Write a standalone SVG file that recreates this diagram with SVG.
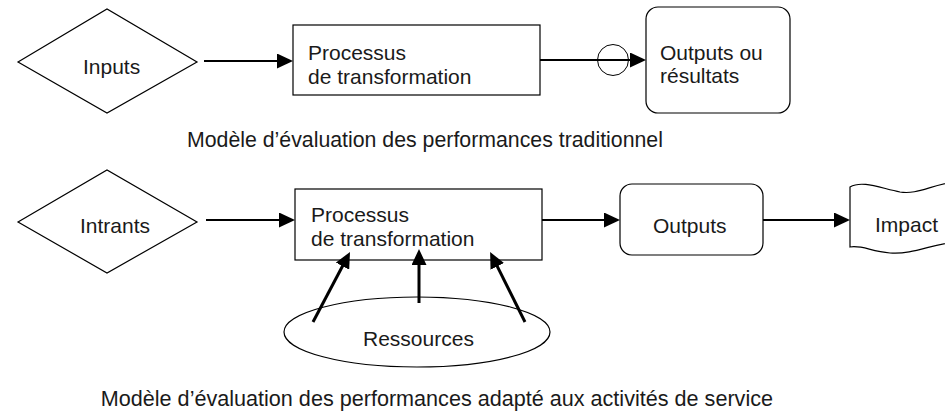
<svg xmlns="http://www.w3.org/2000/svg" width="945" height="420" viewBox="0 0 945 420">
  <style>
    .shape { fill: #ffffff; stroke: #000000; stroke-width: 1.2; }
    .conn { fill: none; stroke: #000000; stroke-width: 1.8; }
    .res { fill: none; stroke: #000000; stroke-width: 3; }
    text { font-family: "Liberation Sans", Arial, Helvetica, sans-serif; font-size: 21px; fill: #1a1a1a; }
    .cap1 { font-size: 21.3px; }
    .cap2 { font-size: 21.6px; }
  </style>
  <defs>
    <marker id="arrow" markerUnits="userSpaceOnUse" markerWidth="17" markerHeight="15" refX="10" refY="7.5" orient="auto">
      <path d="M0,0 L16,7.5 L0,15 z" fill="#000000"/>
    </marker>
  </defs>

  <!-- Top row -->
  <g id="inputs">
    <polygon class="shape" points="18,62 107,9 197,62 107,113"/>
    <text x="83" y="74">Inputs</text>
  </g>
  <g id="processus1">
    <rect class="shape" x="293" y="25" width="247" height="70"/>
    <text x="308" y="60">Processus</text>
    <text x="308" y="84">de transformation</text>
  </g>
  <g id="outputs1">
    <rect class="shape" x="646" y="7" width="144" height="106" rx="12" ry="12"/>
    <text x="660" y="60">Outputs ou</text>
    <text x="660" y="83">résultats</text>
  </g>
  <text id="caption1" class="cap1" x="187" y="147">Modèle d’évaluation des performances traditionnel</text>

  <!-- Bottom row -->
  <g id="intrants">
    <polygon class="shape" points="18,222 107,170 197,222 107,273"/>
    <text x="80" y="233">Intrants</text>
  </g>
  <g id="processus2">
    <rect class="shape" x="295" y="189" width="247" height="71"/>
    <text x="311" y="222">Processus</text>
    <text x="311" y="246">de transformation</text>
  </g>
  <g id="outputs2">
    <rect class="shape" x="620" y="184" width="143" height="71" rx="12" ry="12"/>
    <text x="653" y="233">Outputs</text>
  </g>
  <g id="impact">
    <path class="shape" d="M850,187 C862,180 880,188 900,192 C918,195 932,184 960,181 L960,242 C935,242 915,255 890,253 C870,251 862,245 850,247 Z"/>
    <text x="875" y="232">Impact</text>
  </g>
  <g id="ressources">
    <ellipse class="shape" cx="417" cy="332" rx="133" ry="35"/>
    <text x="363" y="346">Ressources</text>
  </g>
  <text id="caption2" class="cap2" x="773" y="406" text-anchor="end">Modèle d’évaluation des performances adapté aux activités de service</text>

  <!-- Connectors -->
  <g id="connectors">
    <line class="conn" x1="204" y1="61" x2="287" y2="61" marker-end="url(#arrow)"/>
    <line class="conn" x1="540" y1="60" x2="640" y2="60" marker-end="url(#arrow)"/>
    <circle cx="613" cy="60" r="15.5" fill="none" stroke="#000000" stroke-width="1"/>
    <line class="conn" x1="206" y1="220" x2="289" y2="220" marker-end="url(#arrow)"/>
    <line class="conn" x1="542" y1="220" x2="614" y2="220" marker-end="url(#arrow)"/>
    <line class="conn" x1="763" y1="220" x2="844" y2="220" marker-end="url(#arrow)"/>
    <line class="res" x1="313" y1="322" x2="347.2" y2="257.3" marker-end="url(#arrow)"/>
    <line class="res" x1="419" y1="303" x2="419" y2="255" marker-end="url(#arrow)"/>
    <line class="res" x1="525" y1="322" x2="492.8" y2="257.4" marker-end="url(#arrow)"/>
  </g>
</svg>
